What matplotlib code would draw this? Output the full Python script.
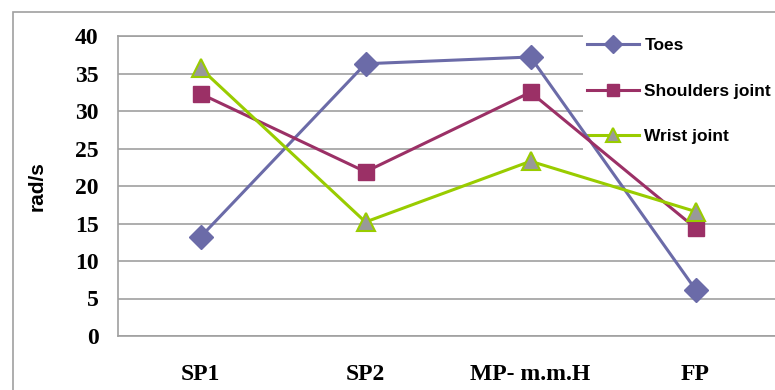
import matplotlib.pyplot as plt
from matplotlib.patches import Rectangle

categories = ['SP1', 'SP2', 'MP- m.m.H', 'FP']
toes = [13.2, 36.3, 37.2, 6.2]
shoulders = [32.3, 21.9, 32.5, 14.4]
wrist = [35.7, 15.2, 23.3, 16.6]
y_ticks = [0, 5, 10, 15, 20, 25, 30, 35, 40]


def main():
    fig = plt.figure(figsize=(7.75, 3.9), dpi=100)
    ax = fig.add_axes([118 / 775, 1 - 336 / 390, 660 / 775, 300 / 390])

    # outer chart border (cropped at right and bottom)
    fig.patches.append(Rectangle((13 / 775, -0.1), 1.2, 1.1 - 12 / 390,
                                 transform=fig.transFigure, fill=False,
                                 edgecolor='#a0a0a0', linewidth=1.2))

    # white legend area: hides gridlines, series lines stay on top
    ax.add_patch(Rectangle((583 / 775, 1 - 168 / 390), 0.3, 150 / 390,
                           transform=fig.transFigure, facecolor='white',
                           edgecolor='none', zorder=2.6, clip_on=False))

    x = range(len(categories))
    ax.plot(x, toes, color='#6B6BA8', linewidth=2.2, marker='D',
            markersize=12, markerfacecolor='#6B6BA8', markeredgecolor='#6B6BA8',
            label='Toes', zorder=3, clip_on=False)
    ax.plot(x, shoulders, color='#9B3066', linewidth=2.2, marker='s',
            markersize=12, markerfacecolor='#9B3066', markeredgecolor='#9B3066',
            label='Shoulders joint', zorder=3, clip_on=False)
    ax.plot(x, wrist, color='#99CC00', linewidth=2.2, marker='^',
            markersize=13, markerfacecolor='#999999', markeredgecolor='#99CC00',
            markeredgewidth=1.5, label='Wrist joint', zorder=4, clip_on=False)

    ax.set_xlim(-0.5, 3.5)
    ax.set_ylim(0, 40)
    ax.set_yticks(y_ticks)
    ax.set_xticks(list(x))
    ax.set_xticklabels(categories)
    ax.yaxis.grid(True, color='#a0a0a0', linewidth=1.2)
    ax.set_axisbelow(True)
    ax.tick_params(length=0)
    ax.tick_params(axis='y', pad=14)
    ax.tick_params(axis='x', pad=20)
    for lab in ax.get_yticklabels() + ax.get_xticklabels():
        lab.set_fontfamily('Liberation Serif')
        lab.set_fontweight('bold')
        lab.set_fontsize(17)
    for s in ax.spines.values():
        s.set_color('#a0a0a0')
        s.set_linewidth(1.2)

    ax.set_ylabel('rad/s', fontfamily='Liberation Sans', fontweight='bold',
                  fontsize=15, labelpad=20)

    leg = ax.legend(loc='upper left', bbox_to_anchor=(587 / 775, 1 - 38 / 390),
                    bbox_transform=fig.transFigure, frameon=False,
                    handlelength=3.0, labelspacing=1.75, borderpad=0,
                    handletextpad=0.3, borderaxespad=0, markerscale=0.75,
                    prop={'family': 'Liberation Sans', 'weight': 'bold',
                          'size': 12.5})
    leg.set_zorder(2.7)

    fig.savefig('out.png', dpi=100)


if __name__ == '__main__':
    main()
